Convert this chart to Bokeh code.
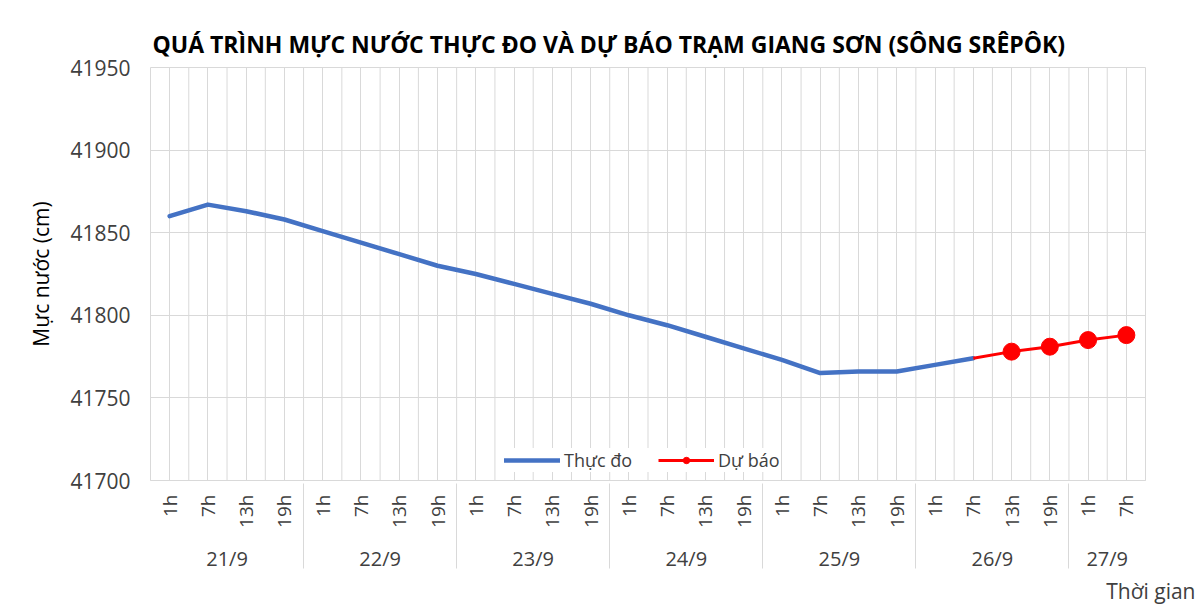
import math
from bokeh.plotting import figure
from bokeh.models import (FactorRange, Range1d, FixedTicker, ColumnDataSource,
                          Legend, LegendItem, Title)
from bokeh.embed import file_html
from bokeh.resources import INLINE

days = ["21/9", "22/9", "23/9", "24/9", "25/9", "26/9", "27/9"]
hours = ["1h", "7h", "13h", "19h"]
hours_last_day = ["1h", "7h"]

observed = [41860, 41867, 41863, 41858, 41851, 41844, 41837, 41830, 41825, 41819,
            41813, 41807, 41800, 41794, 41787, 41780, 41773, 41765, 41766, 41766,
            41770, 41774]
forecast = [41774, 41778, 41781, 41785, 41788]

y_ticks = [41700, 41750, 41800, 41850, 41900, 41950]

factors = [(d, h) for d in days[:-1] for h in hours] + [(days[-1], h) for h in hours_last_day]
obs_x = factors[:len(observed)]
fc_x = factors[len(observed) - 1:len(observed) - 1 + len(forecast)]

FONT = "Open Sans"
GRID = "#d9d9d9"
TXT = "#404040"

p = figure(width=1196, height=605, output_backend="svg", toolbar_location=None,
           x_range=FactorRange(*factors, factor_padding=0, group_padding=0,
                               subgroup_padding=0, range_padding=0),
           y_range=Range1d(y_ticks[0], y_ticks[-1]),
           min_border_left=150, min_border_right=51, min_border_top=67,
           min_border_bottom=125)

p.title.visible = False

chart_title = Title(text="QUÁ TRÌNH MỰC NƯỚC THỰC ĐO VÀ DỰ BÁO TRẠM GIANG SƠN (SÔNG SRÊPÔK)",
                    text_font=FONT, text_font_size="23px", text_font_style="bold",
                    text_color="black", align="left", offset=2, standoff=16)
p.add_layout(chart_title, "above")

p.outline_line_color = GRID
p.background_fill_color = "white"
p.border_fill_color = "white"

# grids
p.ygrid.ticker = FixedTicker(ticks=y_ticks)
p.ygrid.grid_line_color = GRID
p.xgrid.grid_line_color = GRID

# category boundary grid lines
bx = [(f[0], f[1], -0.5) for f in factors[1:]]
bsrc = ColumnDataSource(dict(x=bx, y0=[y_ticks[0]] * len(bx), y1=[y_ticks[-1]] * len(bx)))
p.segment(x0="x", x1="x", y0="y0", y1="y1", source=bsrc, line_color=GRID, line_width=1)

# y axis
ya = p.yaxis[0]
ya.ticker = FixedTicker(ticks=y_ticks)
ya.axis_line_color = None
ya.major_tick_line_color = None
ya.minor_tick_line_color = None
ya.major_tick_out = 0
ya.major_label_standoff = 20
ya.major_label_text_font = FONT
ya.major_label_text_font_size = "21px"
ya.major_label_text_color = TXT
ya.axis_label = "Mực nước (cm)"
ya.axis_label_text_font = FONT
ya.axis_label_text_font_size = "21px"
ya.axis_label_text_font_style = "normal"
ya.axis_label_text_color = "black"
ya.axis_label_standoff = 12

# x axis
xa = p.xaxis[0]
xa.axis_line_color = GRID
xa.major_tick_line_color = None
xa.major_tick_out = 0
xa.major_label_standoff = 14
xa.major_label_orientation = math.pi / 2
xa.major_label_text_font = FONT
xa.major_label_text_font_size = "19px"
xa.major_label_text_color = TXT
xa.group_text_font = FONT
xa.group_text_font_size = "20px"
xa.group_text_color = TXT
xa.group_text_font_style = "normal"
xa.separator_line_color = GRID
xa.separator_line_width = 1

# x axis title at the right end, below the axis
x_title = Title(text="Thời gian", text_font=FONT, text_font_size="21px",
                text_font_style="normal", text_color=TXT, align="right",
                offset=-50, standoff=0)
p.add_layout(x_title, "below")

# data
r_obs = p.line(x=obs_x, y=observed, line_color="#4472C4", line_width=4.5,
               line_join="round", line_cap="round")
r_fc = p.line(x=fc_x, y=forecast, line_color="#FF0000", line_width=3)
r_fcm = p.scatter(x=fc_x[1:], y=forecast[1:], size=17, fill_color="#FF0000",
                  line_color="#FF0000")

legend = Legend(items=[LegendItem(label="Thực đo", renderers=[r_obs]),
                       LegendItem(label="Dự báo", renderers=[r_fc, r_fcm])],
                orientation="horizontal", location=(354, 8),
                label_text_font=FONT, label_text_font_size="18px",
                label_text_color=TXT, glyph_width=56, glyph_height=16,
                label_height=16, label_standoff=4, spacing=26, padding=2,
                margin=0, border_line_color=None, background_fill_color="white",
                background_fill_alpha=1)
p.add_layout(legend, "center")

open("out.html", "w").write(file_html(p, INLINE))
